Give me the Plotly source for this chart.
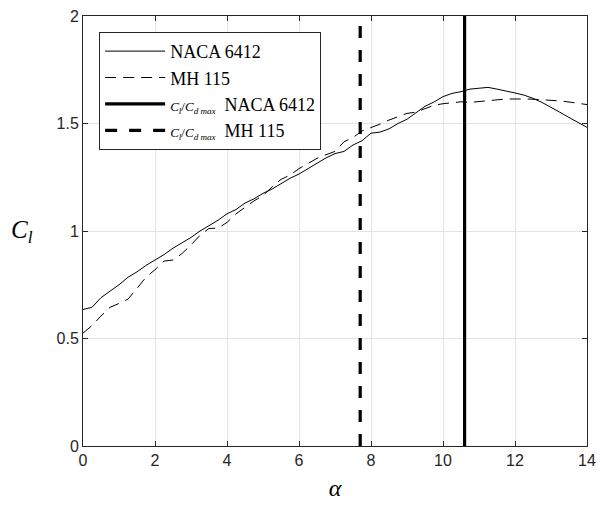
import plotly.graph_objects as go

alpha = [i * 0.25 for i in range(57)]

cl_naca6412 = [0.635, 0.645, 0.69, 0.72, 0.75, 0.785, 0.81, 0.84, 0.865, 0.89,
               0.92, 0.945, 0.97, 1.0, 1.025, 1.05, 1.08, 1.10, 1.13, 1.15,
               1.175, 1.195, 1.22, 1.245, 1.265, 1.29, 1.315, 1.34, 1.36, 1.37,
               1.40, 1.42, 1.455, 1.46, 1.475, 1.50, 1.52, 1.55, 1.58, 1.60,
               1.625, 1.64, 1.648, 1.66, 1.665, 1.668, 1.66, 1.652, 1.642, 1.632,
               1.617, 1.598, 1.576, 1.552, 1.528, 1.505, 1.482]

cl_mh115 = [0.525, 0.56, 0.605, 0.645, 0.663, 0.683, 0.733, 0.785, 0.82, 0.86,
            0.865, 0.895, 0.935, 0.98, 1.012, 1.013, 1.04, 1.08, 1.11, 1.14,
            1.165, 1.205, 1.24, 1.26, 1.29, 1.315, 1.338, 1.355, 1.37, 1.415,
            1.435, 1.465, 1.48, 1.497, 1.516, 1.53, 1.547, 1.553, 1.568, 1.585,
            1.592, 1.595, 1.601, 1.598, 1.603, 1.607, 1.61, 1.614, 1.615, 1.614,
            1.613, 1.611, 1.608, 1.605, 1.60, 1.595, 1.588]

alpha_clcd_max_naca = 10.6
alpha_clcd_max_mh = 7.7
y_range = [0, 2]

x_ticks = [0, 2, 4, 6, 8, 10, 12, 14]
y_ticks = [0, 0.5, 1, 1.5, 2]
y_ticklabels = ["0", "0.5", "1", "1.5", "2"]

serif = "Liberation Serif"
sans = "Liberation Sans"

frac = ('<span style="font-size:13px"><i>C<sub>l</sub></i>/<i>C<sub>d max</sub></i></span>')

fig = go.Figure()
fig.add_trace(go.Scatter(x=alpha, y=cl_naca6412, mode="lines",
                         line=dict(color="black", width=1),
                         name="NACA 6412"))
fig.add_trace(go.Scatter(x=alpha, y=cl_mh115, mode="lines",
                         line=dict(color="black", width=1, dash="11px,7px"),
                         name="MH 115"))
fig.add_trace(go.Scatter(x=[alpha_clcd_max_naca, alpha_clcd_max_naca], y=y_range,
                         mode="lines", line=dict(color="black", width=3.2),
                         name=frac + "  NACA 6412"))
fig.add_trace(go.Scatter(x=[alpha_clcd_max_mh, alpha_clcd_max_mh], y=y_range,
                         mode="lines", line=dict(color="black", width=3.2, dash="12px,12px"),
                         name=frac + "  MH 115"))

axis_common = dict(
    showgrid=True, gridcolor="#e3e3e3", gridwidth=1,
    showline=True, linecolor="#262626", linewidth=1, mirror="ticks",
    ticks="inside", ticklen=5, tickcolor="#262626",
    tickfont=dict(family=sans, size=16, color="#262626"),
    zeroline=False, automargin=False,
)

fig.update_layout(
    width=600, height=512,
    margin=dict(l=83, r=13, t=16, b=66),
    paper_bgcolor="white", plot_bgcolor="white",
    showlegend=True,
    legend=dict(x=0.032, y=0.963, xanchor="left", yanchor="top",
                bgcolor="white", bordercolor="#262626", borderwidth=1,
                font=dict(family=serif, size=18, color="black"),
                tracegroupgap=0, itemwidth=60),
    xaxis=dict(range=[0, 14], tickvals=x_ticks,
               ticktext=[str(t) for t in x_ticks],
               title=dict(text="<i>α</i>", font=dict(family=serif, size=24, color="black"),
                          standoff=10),
               **axis_common),
    yaxis=dict(range=y_range, tickvals=y_ticks, ticktext=y_ticklabels,
               **axis_common),
)
fig.add_annotation(text="<i>C<sub>l</sub></i>", xref="paper", yref="paper",
                   x=-0.122, y=0.5, xanchor="center", yanchor="middle",
                   showarrow=False, font=dict(family=serif, size=25, color="black"))

fig.write_html("out.html")
